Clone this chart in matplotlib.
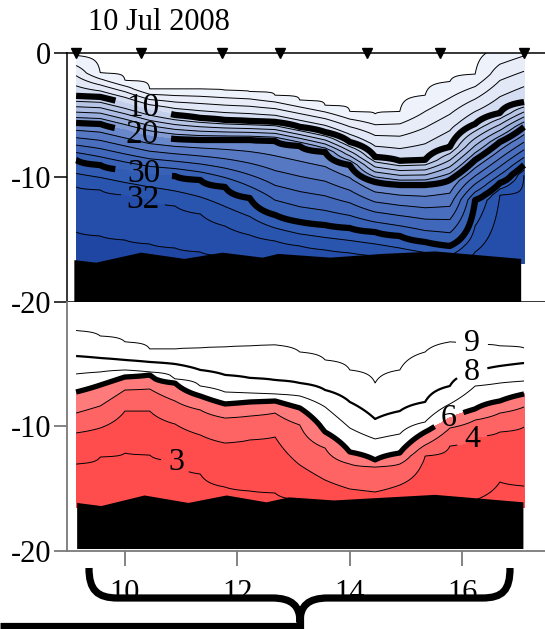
import numpy as np
import matplotlib
matplotlib.use("Agg")
import matplotlib.pyplot as plt
from matplotlib.colors import LinearSegmentedColormap
from matplotlib.path import Path
from matplotlib.patches import PathPatch

plt.rcParams["font.family"] = ["Liberation Serif", "DejaVu Serif"]
plt.rcParams["axes.unicode_minus"] = False

# ---------------------------------------------------------------- data
# along-section position of each profile column
dist = [9.13, 9.56, 10.0, 10.44, 10.89, 11.34, 11.78, 12.22, 12.67, 13.11,
        13.56, 14.0, 14.45, 14.89, 15.34, 15.78, 16.23, 16.67, 17.1]
# CTD stations (triangles on the surface)
stations = [9.13, 10.29, 11.73, 12.76, 14.31, 15.6, 17.1]
date_label = "10 Jul 2008"

# depth (m) of salinity isolines at each column
sal_2 = [0.2, 1.6, 2.2, 2.9, 2.9, 2.9, 3.0, 3.1, 3.4, 3.8, 4.2, 4.7, 4.9, 4.7,
         3.4, 2.3, 1.7, -0.4, -1.0]
sal_10 = [3.45, 3.53, 4.02, 4.58, 4.98, 5.22, 5.38, 5.46, 5.54, 5.94, 6.35,
          7.15, 8.35, 8.67, 8.59, 7.55, 5.70, 4.82, 3.94]
sal_20 = [5.62, 5.70, 6.18, 6.67, 6.91, 6.99, 6.99, 6.99, 7.07, 7.47, 7.95,
          9.0, 10.36, 10.6, 10.6, 10.2, 8.59, 7.15, 5.94]
sal_30 = [8.59, 9.0, 9.4, 9.72, 9.88, 10.2, 10.76, 11.65, 13.01, 13.57, 13.82,
          14.06, 14.38, 14.7, 15.18, 15.5, 11.81, 10.44, 9.0]
sal_32 = [10.76, 11.0, 11.41, 11.81, 12.29, 12.93, 13.9, 14.62, 15.1, 15.5,
          15.82, 16.06, 16.3, 16.63, 16.87, 17.03, 15.98, 11.41, 9.8]
sal_33 = [14.38, 14.7, 15.02, 15.34, 15.66, 15.98, 16.3, 16.47, 16.79, 17.27,
          17.43, 17.59, 17.75, 17.91, 18.07, 18.23, 18.23, 18.23, 18.23]
sal_values = [0, 2, 10, 20, 30, 32, 33, 34]

# depth (m) of temperature isolines at each column
temp_9 = [2.30, 2.73, 3.21, 3.78, 3.78, 3.69, 3.61, 3.53, 3.45, 4.02, 4.66,
          5.46, 6.51, 5.46, 4.02, 3.21, 3.37, 3.53, 3.69]
temp_8 = [4.34, 4.50, 4.66, 4.82, 4.98, 5.46, 5.86, 6.10, 6.27, 6.51, 7.07,
          8.03, 9.40, 8.76, 8.03, 6.75, 5.62, 5.14, 4.90]
temp_7 = [5.78, 5.62, 5.46, 5.62, 6.18, 6.75, 7.23, 7.31, 7.39, 7.55, 8.43,
          10.12, 11.0, 10.6, 9.64, 8.19, 6.75, 6.51, 6.35]
temp_6 = [7.23, 6.67, 6.02, 5.86, 6.51, 7.55, 8.19, 8.03, 7.95, 8.51, 10.44,
          12.05, 12.69, 12.13, 10.44, 9.32, 8.59, 7.95, 7.39]
temp_5 = [8.92, 8.35, 7.07, 6.99, 7.95, 8.67, 9.32, 9.16, 8.92, 9.88, 11.73,
          13.01, 13.25, 13.01, 11.49, 10.12, 9.48, 8.92, 8.43]
temp_4 = [10.52, 10.12, 8.76, 8.76, 9.80, 10.68, 11.33, 11.08, 10.84, 13.09,
          14.30, 15.02, 15.26, 14.70, 12.37, 11.57, 10.84, 10.44, 10.04]
temp_3 = [13.01, 12.45, 12.13, 12.29, 12.77, 13.82, 14.86, 15.18, 15.34, 15.90,
          16.71, 17.11, 17.35, 17.35, 17.11, 16.71, 15.90, 14.46, 14.78]
temp_values = [10, 9, 8, 7, 6, 5, 4, 3, 2]

# sea floor outline
floor_x_top = [9.09, 9.48, 10.28, 11.05, 11.73, 12.44, 12.72, 13.65, 14.57, 15.51, 17.04]
floor_d_top = [16.6, 16.8, 16.0, 16.5, 16.0, 16.4, 16.1, 16.4, 16.1, 15.9, 16.5]
floor_x_bot = [9.14, 9.57, 10.34, 11.12, 11.8, 12.51, 12.91, 13.71, 15.51, 17.08]
floor_d_bot = [16.1, 16.35, 15.5, 16.1, 15.5, 16.05, 15.65, 15.9, 15.45, 16.05]

# ---------------------------------------------------------------- fields
def column_field(depth_grid, isolines, values):
    cols = []
    for j in range(len(dist)):
        dj = [-5.0] + [iso[j] for iso in isolines] + [25.0]
        cols.append(np.interp(depth_grid, dj, values))
    return np.array(cols).T


z_top = np.linspace(0, 16.9, 400)
sal = column_field(z_top, [sal_2, sal_10, sal_20, sal_30, sal_32, sal_33], sal_values)
z_bot = np.linspace(0, 16.5, 400)
temp = column_field(z_bot, [temp_9, temp_8, temp_7, temp_6, temp_5, temp_4, temp_3],
                    temp_values)
X_top, Y_top = np.meshgrid(dist, -z_top)
X_bot, Y_bot = np.meshgrid(dist, -z_bot)


def upright(cs):
    for t in cs.labelTexts:
        t.set_rotation(0)


# ---------------------------------------------------------------- figure
fig = plt.figure(figsize=(5.45, 6.29), dpi=100)
ax1 = fig.add_axes([0.1229, 0.5199, 0.8771, 0.3959])
ax2 = fig.add_axes([0.1229, 0.1240, 0.8771, 0.3959])
for ax in (ax1, ax2):
    ax.set_xlim(8.968, 17.473)
    ax.set_ylim(-20, 0)
    ax.spines["right"].set_visible(False)

# salinity panel
sal_stops = [(2, "#f1f4fb"), (8, "#dfe6f5"), (10, "#c9d4ed"), (16, "#a6b8e1"),
             (20, "#7893d0"), (22, "#5c7ec6"), (26, "#4569bb"), (30, "#3460b5"),
             (32, "#2853ad"), (34, "#1c43a0")]
blues = LinearSegmentedColormap.from_list(
    "sal", [((v - 2) / 32, c) for v, c in sal_stops])
sal_fill_levels = [2, 4, 6, 8, 10, 12, 14, 16, 18, 20, 22, 24, 26, 28, 30, 31, 32, 33, 40]
mids = [(a + min(b, 34)) / 2 for a, b in zip(sal_fill_levels[:-1], sal_fill_levels[1:])]
ax1.contourf(X_top, Y_top, sal, levels=sal_fill_levels,
             colors=[blues((m - 2) / 32) for m in mids])
ax1.contour(X_top, Y_top, sal,
            levels=[2, 4, 6, 8, 12, 14, 16, 18, 22, 24, 26, 28, 31, 33],
            colors="k", linewidths=0.7)
cs_thick = ax1.contour(X_top, Y_top, sal, levels=[10, 20, 30], colors="k",
                       linewidths=4.5)
ax1.clabel(cs_thick, fmt="%d", fontsize=24, inline=True, inline_spacing=12,
           manual=[(10.33, -4.3), (10.33, -6.2), (10.33, -9.6)])
upright(cs_thick)
cs_32 = ax1.contour(X_top, Y_top, sal, levels=[32], colors="k", linewidths=0.7)
ax1.clabel(cs_32, fmt="%d", fontsize=24, inline=True, inline_spacing=6,
           manual=[(10.33, -11.4)])
upright(cs_32)
ax1.fill_between(floor_x_top, [-d for d in floor_d_top], -20, color="k",
                 lw=0, zorder=3)
ax1.plot(stations, [0] * len(stations), "v", color="k", ms=7, clip_on=False,
         zorder=6)

# temperature panel
ax2.contourf(X_bot, Y_bot, temp, levels=[0, 4, 5, 6],
             colors=["#ff4d4d", "#ff6464", "#ff7b7b"])
ax2.contour(X_bot, Y_bot, temp, levels=[5, 7], colors="k", linewidths=0.7)
cs_t_thin = ax2.contour(X_bot, Y_bot, temp, levels=[3, 4, 9], colors="k",
                        linewidths=0.7)
ax2.clabel(cs_t_thin, fmt="%d", fontsize=23, inline=True, inline_spacing=8,
           manual=[(10.93, -12.85), (16.14, -10.84), (16.17, -3.45)])
upright(cs_t_thin)
cs_t8 = ax2.contour(X_bot, Y_bot, temp, levels=[8], colors="k", linewidths=1.6)
ax2.clabel(cs_t8, fmt="%d", fontsize=23, inline=True, inline_spacing=8,
           manual=[(16.17, -5.6)])
upright(cs_t8)
cs_t6 = ax2.contour(X_bot, Y_bot, temp, levels=[6], colors="k", linewidths=3.8)
ax2.clabel(cs_t6, fmt="%d", fontsize=23, inline=True, inline_spacing=8,
           manual=[(15.75, -9.3)])
upright(cs_t6)
ax2.fill_between(floor_x_bot, [-d for d in floor_d_bot], -19.8, color="k",
                 lw=0, zorder=3)

# axes styling
ax1.set_xticks([])
ax1.set_yticks([0, -10, -20])
ax1.set_yticklabels(["0", "-10", "-20"])
ax1.tick_params(axis="y", length=9.5, width=1.1, pad=2, labelsize=22,
                color="k")
for s in ("left", "top", "bottom"):
    ax1.spines[s].set_color("k")
    ax1.spines[s].set_linewidth(1.1)

grey = "#7a7a7a"
ax2.spines["top"].set_visible(False)
for s in ("left", "bottom"):
    ax2.spines[s].set_color(grey)
    ax2.spines[s].set_linewidth(1.3)
ax2.set_yticks([-10, -20])
ax2.set_yticklabels(["-10", "-20"])
ax2.set_xticks([10, 12, 14, 16])
ax2.set_xticklabels(["10", "12", "14", "16"])
ax2.tick_params(axis="y", length=9.5, width=1.3, pad=2, labelsize=22,
                color=grey)
ax2.tick_params(axis="x", length=10.5, width=1.3, pad=10, labelsize=22,
                color=grey)

fig.text(88 / 545, 1 - 22 / 629, date_label, ha="left", va="center",
         fontsize=22)

# curly brace grouping the section, drawn in figure pixels
W, H = 545.0, 629.0


def fp(x, y):
    return (x / W, 1 - y / H)


verts = [fp(89, 568), fp(89, 590), fp(97, 598), fp(118, 598),
         fp(272, 598),
         fp(292, 598), fp(300, 606), fp(300, 622),
         fp(300, 606), fp(308, 598), fp(328, 598),
         fp(482, 598),
         fp(503, 598), fp(510, 590), fp(510, 568)]
codes = [Path.MOVETO, Path.CURVE4, Path.CURVE4, Path.CURVE4,
         Path.LINETO,
         Path.CURVE4, Path.CURVE4, Path.CURVE4,
         Path.CURVE4, Path.CURVE4, Path.CURVE4,
         Path.LINETO,
         Path.CURVE4, Path.CURVE4, Path.CURVE4]
brace = PathPatch(Path(verts, codes), transform=fig.transFigure, fill=False,
                  lw=5.2, edgecolor="k", capstyle="butt", joinstyle="round")
fig.add_artist(brace)
stem = Path([fp(300, 612), fp(300, 629), fp(0, 626), fp(300, 626)],
            [Path.MOVETO, Path.LINETO, Path.MOVETO, Path.LINETO])
fig.add_artist(PathPatch(stem, transform=fig.transFigure, fill=False, lw=5.2,
                         edgecolor="k", capstyle="butt"))

fig.savefig("out.png", dpi=100)
